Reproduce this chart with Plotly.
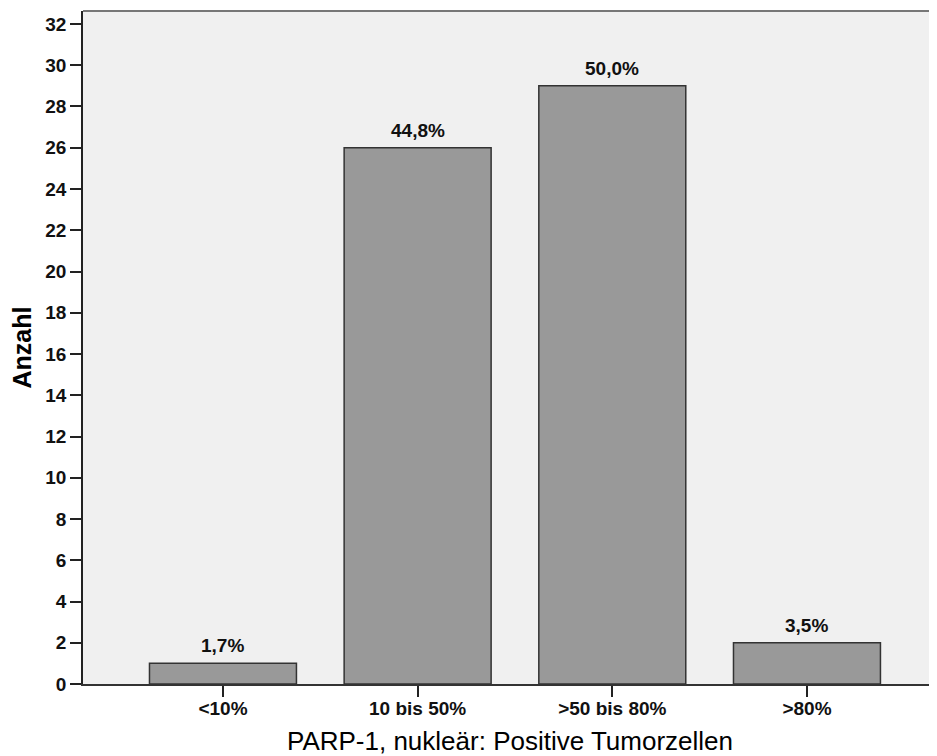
import plotly.graph_objects as go

categories = ["<10%", "10 bis 50%", ">50 bis 80%", ">80%"]
counts = [1, 26, 29, 2]
pct_labels = ["1,7%", "44,8%", "50,0%", "3,5%"]
y_ticks = list(range(0, 33, 2))

FONT = "Liberation Sans"
xs = list(range(len(categories)))

fig = go.Figure()
fig.add_trace(go.Bar(
    x=xs, y=counts, width=0.755,
    marker=dict(color="#999999", line=dict(color="#333333", width=1.5)),
    showlegend=False,
))
for xi, yi, lab in zip(xs, counts, pct_labels):
    fig.add_annotation(x=xi, y=yi, text=lab, showarrow=False, yanchor="bottom",
                       yshift=5, font=dict(family=FONT, size=19, color="#111111", weight="bold"))
# page body has an 8px margin, compensate so the plot area lands where the reference has it
fig.update_layout(
    width=929, height=748,
    margin=dict(l=75, r=0, t=3, b=72),
    paper_bgcolor="white", plot_bgcolor="#f0f0f0",
)
fig.update_xaxes(
    range=[-0.719, 3.668], tickmode="array", tickvals=xs,
    ticktext=categories, ticks="outside", ticklen=11, tickcolor="#222", tickwidth=1.5,
    ticklabelstandoff=-5,
    showline=True, linecolor="#333", linewidth=1.5, showgrid=False, zeroline=False,
    tickfont=dict(family=FONT, size=19, color="#111", weight="bold"),
    title=dict(text="PARP-1, nukleär: Positive Tumorzellen",
               font=dict(family=FONT, size=26, color="#000"), standoff=14),
)
fig.update_yaxes(
    range=[0, 32.63], tickmode="array", tickvals=y_ticks,
    ticks="outside", ticklen=11, tickcolor="#222", tickwidth=1.5,
    showline=True, linecolor="#222", linewidth=1.5, showgrid=False, zeroline=False,
    tickfont=dict(family=FONT, size=19, color="#111", weight="bold"),
    title=dict(text="Anzahl", font=dict(family=FONT, size=25, color="#000", weight="bold"), standoff=12),
)
fig.add_shape(type="line", xref="paper", yref="paper", x0=0, x1=1, y0=1, y1=1,
              line=dict(color="#777", width=2))
fig.write_html("out.html")
